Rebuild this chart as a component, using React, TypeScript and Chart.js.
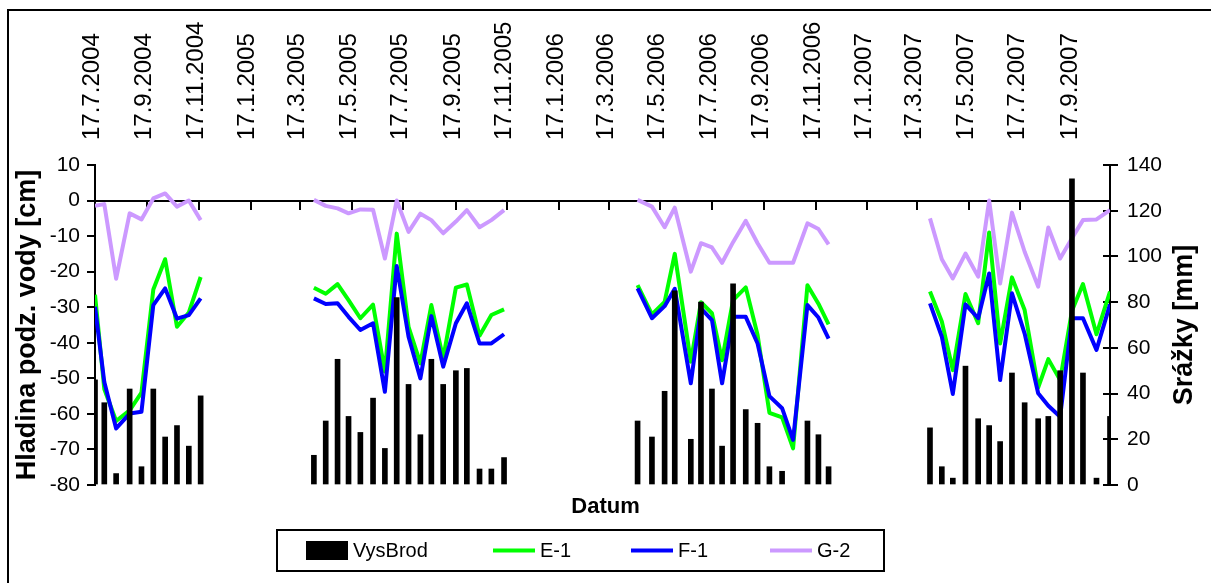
import React, { useEffect, useRef } from 'react';
import { Chart, registerables } from 'chart.js';

Chart.register(...registerables);

// Date axis labels (every two months)
const tickLabels = [
  '17.7.2004', '17.9.2004', '17.11.2004', '17.1.2005', '17.3.2005', '17.5.2005', '17.7.2005',
  '17.9.2005', '17.11.2005', '17.1.2006', '17.3.2006', '17.5.2006', '17.7.2006', '17.9.2006',
  '17.11.2006', '17.1.2007', '17.3.2007', '17.5.2007', '17.7.2007', '17.9.2007',
];

// Measurement dates (four seasons of observations)
const measureDates = [
  '17.7.2004', '28.7.2004', '11.8.2004', '27.8.2004', '10.9.2004', '24.9.2004', '8.10.2004', '22.10.2004', '5.11.2004', '19.11.2004',
  '2.4.2005', '16.4.2005', '30.4.2005', '13.5.2005', '27.5.2005', '11.6.2005', '25.6.2005', '9.7.2005', '23.7.2005', '6.8.2005',
  '19.8.2005', '2.9.2005', '17.9.2005', '30.9.2005', '15.10.2005', '29.10.2005', '13.11.2005',
  '20.4.2006', '7.5.2006', '22.5.2006', '3.6.2006', '22.6.2006', '4.7.2006', '17.7.2006', '29.7.2006', '11.8.2006', '26.8.2006',
  '9.9.2006', '23.9.2006', '8.10.2006', '21.10.2006', '7.11.2006', '20.11.2006', '2.12.2006',
  '1.4.2007', '15.4.2007', '28.4.2007', '13.5.2007', '28.5.2007', '10.6.2007', '23.6.2007', '7.7.2007', '22.7.2007', '7.8.2007',
  '19.8.2007', '2.9.2007', '16.9.2007', '29.9.2007', '15.10.2007', '31.10.2007',
];

// Precipitation, station Vyšší Brod [mm]
const vysBrod: (number | null)[] = [
  46, 36, 5, 42, 8, 42, 21, 26, 17, 39,
  13, 28, 55, 30, 23, 38, 16, 82, 44, 22, 55, 44, 50, 51, 7, 7, 12,
  28, 21, 41, 85, 20, 80, 42, 17, 88, 33, 27, 8, 6, null, 28, 22, 8,
  25, 8, 3, 52, 29, 26, 19, 49, 36, 29, 30, 50, 134, 49, 3, 30,
];

// Groundwater level in wells [cm]
const e1: (number | null)[] = [
  -26.5, -53, -62, -59, -54, -25, -16.5, -35.5, -31.5, -21.5,
  -24.5, -26.2, -23.5, -28, -33.1, -29.3, -48.1, -9.3, -35.5, -45.8, -29.4, -44.4, -24.5, -23.6, -38, -32.2, -30.6,
  -23.8, -32, -28.5, -15, -45.3, -28.6, -31.7, -44.9, -28, -24.4, -37.8, -59.7, -61, -69.7, -23.8, -29, -34.8,
  -25.6, -34, -47.7, -26.3, -34.5, -9, -40.2, -21.6, -30.8, -52.6, -44.6, -50.5, -31, -23.5, -37.6, -25.6,
];

const f1: (number | null)[] = [
  -29.9, -51, -64.1, -59.9, -59.4, -29.4, -24.7, -33.2, -32.2, -27.5,
  -27.5, -29.1, -28.9, -32.7, -36.4, -34.5, -53.8, -18.4, -38.3, -50, -32.5, -46.7, -34.5, -28.9, -40.2, -40.2, -37.6,
  -24.7, -33.1, -29.7, -24.8, -51.4, -30.3, -33.6, -51.4, -32.7, -32.7, -40.2, -55, -58.4, -67.3, -29.4, -32.9, -38.8,
  -28.9, -38.3, -54.4, -29.2, -33.1, -20.5, -50.5, -26.1, -37.4, -54.2, -57.7, -60.8, -33.1, -33.1, -42, -29.2,
];

const g2: (number | null)[] = [
  -1.5, -1, -22, -3.6, -5.3, 0.6, 2, -1.7, 0, -5.5,
  0.2, -1.5, -2.2, -3.6, -2.5, -2.6, -16.3, 0, -8.8, -3.7, -5.5, -9.2, -5.9, -2.7, -7.5, -5.5, -2.7,
  0.2, -1.7, -7.5, -2, -20, -12, -13.2, -17.5, -11.7, -5.7, -12, -17.5, -17.5, -17.5, -6.4, -8, -12.3,
  -5, -16.5, -21.9, -14.9, -21.4, 0, -23.3, -3.4, -14.4, -24.2, -7.6, -16.3, -10.6, -5.5, -5.3, -2.7,
];

const leftTitle = 'Hladina podz. vody [cm]';
const rightTitle = 'Srážky [mm]';
const xTitle = 'Datum';

const FONT = '"Liberation Sans", Arial, sans-serif';
const DAY_MS = 86400000;

function toDay(s: string): number {
  const [d, m, y] = s.split('.').map(Number);
  return Date.UTC(y, m - 1, d) / DAY_MS;
}

// Legend frame and item slots below the plot
const legendFrame = { x: 277, y: 530, w: 607, h: 41 };
const legendSlots = [306, 493, 631, 770];
const legendSymbolW = 42;

const framedLegend = {
  id: 'framedLegend',
  afterDraw(chart: any) {
    const { ctx } = chart;
    ctx.save();
    ctx.strokeStyle = '#000';
    ctx.lineWidth = 2;
    ctx.strokeRect(legendFrame.x, legendFrame.y, legendFrame.w, legendFrame.h);
    const cy = legendFrame.y + legendFrame.h / 2;
    chart.data.datasets.forEach((ds: any, i: number) => {
      const x0 = legendSlots[i];
      if (ds.type === 'bar') {
        ctx.fillStyle = ds.backgroundColor;
        ctx.fillRect(x0, cy - 9.5, legendSymbolW, 19);
      } else {
        ctx.strokeStyle = ds.borderColor;
        ctx.lineWidth = 4;
        ctx.beginPath();
        ctx.moveTo(x0, cy);
        ctx.lineTo(x0 + legendSymbolW, cy);
        ctx.stroke();
      }
      ctx.fillStyle = '#000';
      ctx.font = `20px ${FONT}`;
      ctx.textAlign = 'left';
      ctx.textBaseline = 'middle';
      ctx.fillText(ds.label, x0 + legendSymbolW + 5, cy + 1);
    });
    ctx.restore();
  },
};

// Title of the secondary axis, reading bottom-to-top, plus tick marks crossing the right axis
const rightAxisDecor = {
  id: 'rightAxisDecor',
  beforeDatasetsDraw(chart: any) {
    const { ctx, chartArea } = chart;
    const scale = chart.scales.y2;
    ctx.save();
    ctx.strokeStyle = '#000';
    ctx.lineWidth = 2;
    scale.ticks.forEach((t: any) => {
      const y = Math.round(scale.getPixelForValue(t.value));
      ctx.beginPath();
      ctx.moveTo(chartArea.right - 7, y);
      ctx.lineTo(chartArea.right, y);
      ctx.stroke();
    });
    ctx.restore();
  },
  afterDraw(chart: any) {
    const { ctx, chartArea } = chart;
    ctx.save();
    ctx.translate(chartArea.right + 75, (chartArea.top + chartArea.bottom) / 2);
    ctx.rotate(-Math.PI / 2);
    ctx.font = `bold 27px ${FONT}`;
    ctx.fillStyle = '#000';
    ctx.textAlign = 'center';
    ctx.textBaseline = 'middle';
    ctx.fillText(rightTitle, 0, 0);
    ctx.restore();
  },
};

export default function App() {
  const ref = useRef<HTMLCanvasElement>(null);

  useEffect(() => {
    const canvas = ref.current;
    if (!canvas) return;
    const xs = measureDates.map(toDay);
    const pts = (vals: (number | null)[]) => xs.map((x, i) => ({ x, y: vals[i] }));
    const tickDays = tickLabels.map(toDay);
    const xMin = tickDays[0];
    const xMax = xs[xs.length - 1];
    const setTicks = (s: any) => {
      s.ticks = tickDays.map((v) => ({ value: v }));
    };

    Chart.defaults.font.family = FONT;
    Chart.defaults.color = '#000';

    const lineDs = (label: string, vals: (number | null)[], color: string, order: number) => ({
      type: 'line' as const,
      label,
      data: pts(vals),
      xAxisID: 'x',
      yAxisID: 'y',
      borderColor: color,
      backgroundColor: color,
      borderWidth: 4,
      pointRadius: 0,
      tension: 0,
      spanGaps: 40,
      borderJoinStyle: 'round' as const,
      order,
    });

    const chart = new Chart(canvas, {
      type: 'line',
      data: {
        datasets: [
          {
            type: 'bar',
            label: 'VysBrod',
            data: pts(vysBrod),
            xAxisID: 'x',
            yAxisID: 'y2',
            backgroundColor: '#000000',
            barThickness: 5,
            order: 1,
          } as any,
          lineDs('E-1', e1, '#00ff00', 4),
          lineDs('F-1', f1, '#0000ff', 3),
          lineDs('G-2', g2, '#cc99ff', 2),
        ],
      },
      options: {
        animation: false,
        responsive: false,
        devicePixelRatio: 1,
        layout: { padding: { left: 0, right: 0, top: 0, bottom: 62.6 } },
        plugins: {
          legend: { display: false },
          tooltip: { enabled: false },
          title: {
            display: true,
            text: xTitle,
            position: 'bottom',
            color: '#000',
            font: { size: 22, weight: 'bold' },
            padding: { top: 9, bottom: 0 },
          },
        },
        scales: {
          x: {
            type: 'linear',
            position: { y: 0 } as any,
            min: xMin,
            max: xMax,
            offset: false,
            afterBuildTicks: setTicks,
            ticks: { display: false },
            grid: {
              display: true,
              drawOnChartArea: false,
              drawTicks: true,
              tickLength: 8,
              color: '#000',
              lineWidth: 2,
              offset: false,
            },
            border: { display: true, color: '#000', width: 2 },
          },
          xTop: {
            type: 'linear',
            position: 'top',
            min: xMin,
            max: xMax,
            offset: false,
            afterBuildTicks: setTicks,
            afterFit: (s: any) => {
              s.height = 165;
            },
            ticks: {
              autoSkip: false,
              minRotation: 90,
              maxRotation: 90,
              padding: 25,
              labelOffset: 26,
              color: '#000',
              font: { size: 24 },
              callback: (_v: any, i: number) => tickLabels[i],
            },
            grid: { display: false, drawTicks: false },
            border: { display: false },
          },
          y: {
            type: 'linear',
            position: 'left',
            min: -80,
            max: 10,
            afterFit: (s: any) => {
              s.width = 95;
            },
            ticks: { stepSize: 10, padding: 7, color: '#000', font: { size: 21 } },
            grid: { drawOnChartArea: false, tickLength: 8, color: '#000', lineWidth: 2 },
            border: { display: true, color: '#000', width: 2 },
            title: {
              display: true,
              text: leftTitle,
              color: '#000',
              font: { size: 27, weight: 'bold' },
              padding: { top: 11, bottom: 0 },
            },
          },
          y2: {
            type: 'linear',
            position: 'right',
            min: 0,
            max: 140,
            afterFit: (s: any) => {
              s.width = 101;
            },
            ticks: { stepSize: 20, padding: 9, color: '#000', font: { size: 21 } },
            grid: { drawOnChartArea: false, tickLength: 8, color: '#000', lineWidth: 2 },
            border: { display: true, color: '#000', width: 2 },
          },
        },
      } as any,
      plugins: [framedLegend, rightAxisDecor],
    });

    return () => chart.destroy();
  }, []);

  return (
    <div
      style={{
        position: 'absolute',
        left: 0,
        top: 0,
        width: 1211,
        height: 583,
        overflow: 'hidden',
        background: '#fff',
      }}
    >
      <div
        style={{
          position: 'absolute',
          left: 7,
          top: 9,
          width: 1300,
          height: 700,
          border: '2px solid #000',
        }}
      />
      <canvas
        ref={ref}
        width={1211}
        height={583}
        style={{ position: 'absolute', left: 0, top: 0 }}
      />
    </div>
  );
}
